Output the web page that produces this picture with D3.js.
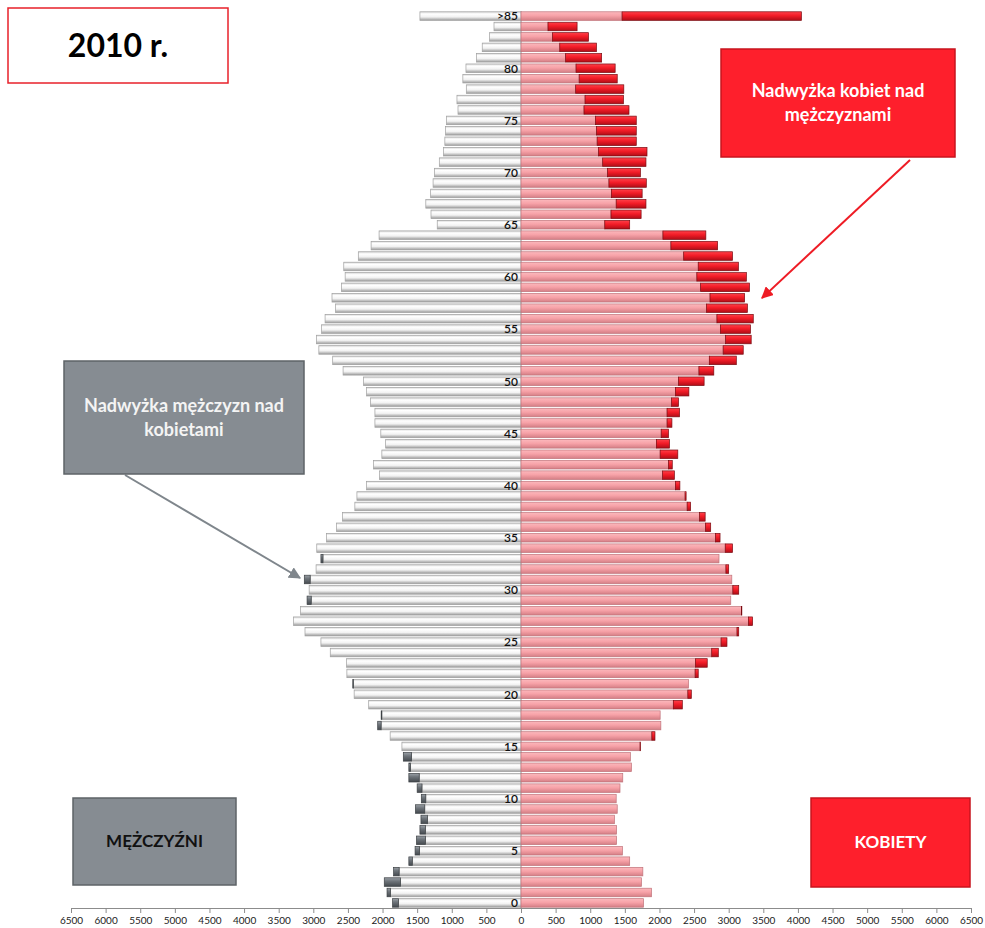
<!DOCTYPE html>
<html>
<head>
<meta charset="utf-8">
<script src="https://cdn.jsdelivr.net/npm/d3@7"></script>
<style>
  body { margin: 0; background: #fff; }
  #svg-container { width: 985px; height: 928px; }
  text { font-family: Lato, "Open Sans", sans-serif; }
</style>
</head>
<body>
<div id="svg-container"></div>
<script>
// dane: wiek, mężczyźni, kobiety (tys.)
const ages = d3.range(0, 85).map(String).concat([">85"]);
const men = [
  1855, 1935, 1975, 1840, 1620, 1530, 1510, 1460, 1445, 1525,
  1440, 1500, 1620, 1620, 1700, 1720, 1890, 2070, 2020, 2200,
  2410, 2430, 2515, 2520, 2755, 2890, 3120, 3285, 3185, 3090,
  3060, 3130, 2960, 2890, 2950, 2810, 2665, 2580, 2400, 2370,
  2230, 2045, 2130, 2010, 1955, 2025, 2110, 2110, 2175, 2230,
  2275, 2570, 2720, 2920, 2955, 2880, 2830, 2680, 2730, 2595,
  2540, 2560, 2350, 2165, 2050, 1210, 1300, 1375, 1305, 1270,
  1250, 1180, 1120, 1100, 1090, 1075, 910, 925, 790, 840,
  795, 645, 560, 455, 390, 1460
];
const women = [
  1770, 1885, 1740, 1760, 1570, 1465, 1380, 1380, 1350, 1390,
  1375, 1430, 1470, 1595, 1580, 1725, 1935, 2020, 2010, 2330,
  2460, 2420, 2560, 2690, 2850, 2975, 3145, 3345, 3190, 3030,
  3145, 3045, 3000, 2860, 3055, 2875, 2740, 2660, 2450, 2385,
  2295, 2215, 2185, 2265, 2145, 2130, 2180, 2290, 2275, 2425,
  2645, 2785, 3110, 3210, 3325, 3315, 3355, 3270, 3230, 3300,
  3255, 3140, 3055, 2840, 2670, 1570, 1735, 1805, 1750, 1810,
  1725, 1805, 1820, 1665, 1665, 1665, 1560, 1480, 1485, 1390,
  1360, 1165, 1090, 975, 810, 4050
];
const xTicks = d3.range(-6500, 6501, 500);

const width = 985, height = 928;
const svg = d3.select("#svg-container").append("svg")
  .attr("width", width).attr("height", height);

const xScale = d3.scaleLinear().domain([-6500, 6500]).range([71, 971]);
const step = (902 - 17) / 85;
const yScale = d3.scaleBand()
  .domain(ages.slice().reverse())
  .range([17 - step / 2, 902 + step / 2])
  .paddingInner(0.18);

const data = ages.map((a, i) => ({ age: a, m: men[i], f: women[i] }));

// gradienty (efekt 3D)
const defs = svg.append("defs");
function grad(id, stops) {
  const g = defs.append("linearGradient").attr("id", id)
    .attr("x1", 0).attr("y1", 0).attr("x2", 0).attr("y2", 1);
  stops.forEach(s => g.append("stop").attr("offset", s[0]).attr("stop-color", s[1]));
}
grad("gMen", [[0, "#d6d6d6"], [0.25, "#ffffff"], [0.6, "#f2f2f2"], [1, "#9a9a9a"]]);
grad("gMenX", [[0, "#9aa0a6"], [0.4, "#6e747a"], [1, "#44494e"]]);
grad("gWom", [[0, "#fbb8bc"], [0.45, "#f7a2a8"], [1, "#d47e85"]]);
grad("gWomX", [[0, "#ff4049"], [0.45, "#f21c27"], [1, "#b00d17"]]);

const bh = yScale.bandwidth();
const x0 = xScale(0);

// linia środkowa
svg.append("line")
  .attr("x1", x0).attr("x2", x0)
  .attr("y1", 11).attr("y2", 908)
  .attr("stroke", "#8c8c8c").attr("stroke-width", 1);

// mężczyźni - część wspólna
svg.append("g").selectAll("rect").data(data).join("rect")
  .attr("x", d => xScale(-Math.min(d.m, d.f)))
  .attr("y", d => yScale(d.age))
  .attr("width", d => x0 - xScale(-Math.min(d.m, d.f)))
  .attr("height", bh)
  .attr("fill", "url(#gMen)")
  .attr("stroke", "#a0a0a0").attr("stroke-width", 0.7);

// nadwyżka mężczyzn
svg.append("g").selectAll("rect").data(data.filter(d => d.m > d.f)).join("rect")
  .attr("x", d => xScale(-d.m))
  .attr("y", d => yScale(d.age))
  .attr("width", d => xScale(-d.f) - xScale(-d.m))
  .attr("height", bh)
  .attr("fill", "url(#gMenX)")
  .attr("stroke", "#3c4044").attr("stroke-width", 0.7);

// kobiety - część wspólna
svg.append("g").selectAll("rect").data(data).join("rect")
  .attr("x", x0)
  .attr("y", d => yScale(d.age))
  .attr("width", d => xScale(Math.min(d.m, d.f)) - x0)
  .attr("height", bh)
  .attr("fill", "url(#gWom)")
  .attr("stroke", "#c0737a").attr("stroke-width", 0.7);

// nadwyżka kobiet
svg.append("g").selectAll("rect").data(data.filter(d => d.f > d.m)).join("rect")
  .attr("x", d => xScale(d.m))
  .attr("y", d => yScale(d.age))
  .attr("width", d => xScale(d.f) - xScale(d.m))
  .attr("height", bh)
  .attr("fill", "url(#gWomX)")
  .attr("stroke", "#7a0a10").attr("stroke-width", 0.7);

// etykiety wieku
svg.append("g").selectAll("text")
  .data(data.filter((d, i) => i % 5 === 0 || d.age === ">85"))
  .join("text")
  .attr("x", x0 - 3)
  .attr("y", d => yScale(d.age) + bh / 2)
  .attr("dy", "0.36em")
  .attr("text-anchor", "end")
  .attr("font-size", 12)
  .attr("font-weight", 600)
  .attr("fill", "#111")
  .text(d => d.age);

// oś x
const xAxis = d3.axisBottom(xScale)
  .tickValues(xTicks)
  .tickFormat(d => Math.abs(d))
  .tickSizeOuter(0)
  .tickSize(5);
const ax = svg.append("g")
  .attr("class", "x-axis")
  .attr("transform", "translate(0,908)")
  .call(xAxis);
ax.select(".domain").attr("stroke", "#8c8c8c");
ax.selectAll(".tick line").attr("stroke", "#8c8c8c");
ax.selectAll(".tick text")
  .attr("y", 9)
  .attr("font-family", "'Liberation Sans Narrow', 'DejaVu Sans Condensed', sans-serif")
  .attr("font-size", 10)
  .attr("fill", "#222");

// strzałki
const mk = (id, col) => defs.append("marker").attr("id", id)
  .attr("viewBox", "0 0 10 10").attr("refX", 9).attr("refY", 5)
  .attr("markerWidth", 6).attr("markerHeight", 6).attr("orient", "auto")
  .append("path").attr("d", "M0,0L10,5L0,10z").attr("fill", col);
mk("arrRed", "#ee1c25");
mk("arrGrey", "#7f868c");

svg.append("line")
  .attr("x1", 910).attr("y1", 160).attr("x2", 762).attr("y2", 298)
  .attr("stroke", "#ee1c25").attr("stroke-width", 2)
  .attr("marker-end", "url(#arrRed)");
svg.append("line")
  .attr("x1", 125).attr("y1", 475).attr("x2", 300).attr("y2", 578)
  .attr("stroke", "#7f868c").attr("stroke-width", 2)
  .attr("marker-end", "url(#arrGrey)");

// ramki z opisami
function box(x, y, w, h, fill, stroke, lines, col, fs) {
  svg.append("rect")
    .attr("x", x).attr("y", y).attr("width", w).attr("height", h)
    .attr("fill", fill).attr("stroke", stroke).attr("stroke-width", 1.5);
  const lh = fs * 1.35;
  lines.forEach((t, i) => {
    svg.append("text")
      .attr("x", x + w / 2)
      .attr("y", y + h / 2 + (i - (lines.length - 1) / 2) * lh)
      .attr("dy", "0.35em")
      .attr("text-anchor", "middle")
      .attr("font-size", fs)
      .attr("font-weight", "bold")
      .attr("fill", col)
      .text(t);
  });
}
box(8, 8, 220, 75, "#fff", "#e8202a", ["2010 r."], "#000", 32);
box(721, 49, 234, 108, "#fe1f2c", "#c8141e", ["Nadwyżka kobiet nad", "mężczyznami"], "#fff", 18);
box(64, 361, 240, 113, "#868c92", "#5e6367", ["Nadwyżka mężczyzn nad", "kobietami"], "#f4f4f4", 18);
box(73, 798, 163, 87, "#868c92", "#5e6367", ["MĘŻCZYŹNI"], "#111", 17);
box(811, 798, 159, 89, "#fe1f2c", "#c8141e", ["KOBIETY"], "#fff", 17);
</script>
</body>
</html>
